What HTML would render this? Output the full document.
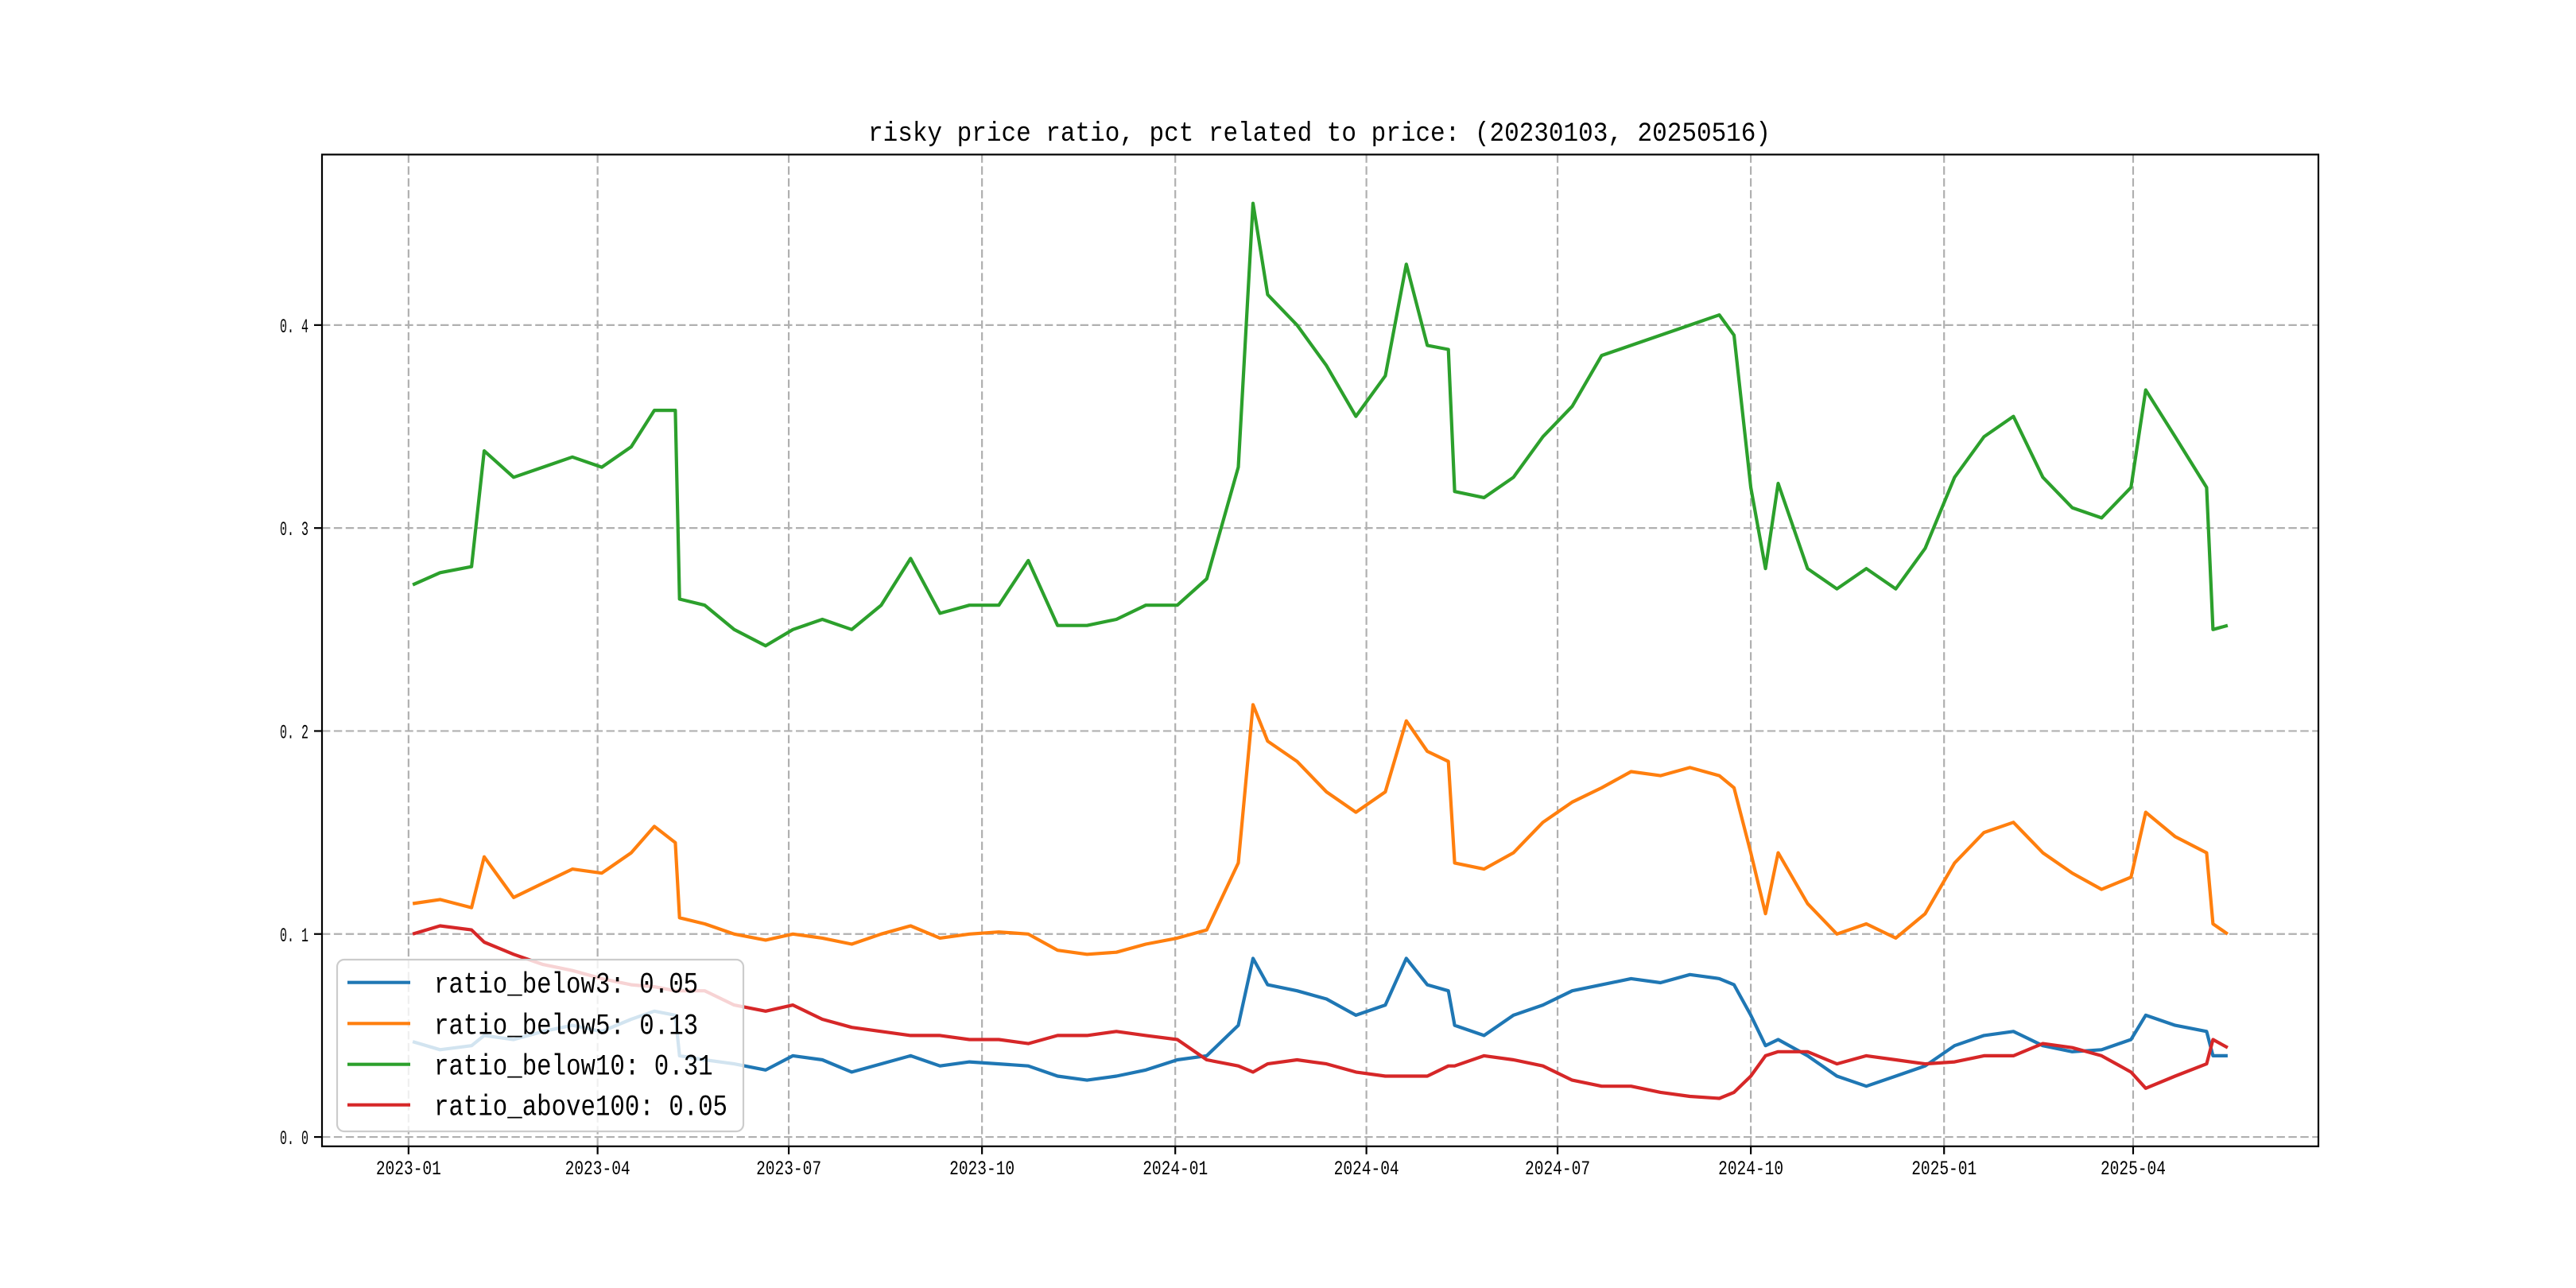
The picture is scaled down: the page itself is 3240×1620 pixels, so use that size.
<!DOCTYPE html>
<html><head><meta charset="utf-8">
<style>
html,body{margin:0;padding:0;background:#fff;}
svg{display:block;}
text{font-family:"Liberation Mono","WenQuanYi Zen Hei",monospace;fill:#000;}
</style></head>
<body>
<svg id="chart" width="3240" height="1620" viewBox="0 0 3240 1620" xmlns="http://www.w3.org/2000/svg">
<rect width="3240" height="1620" fill="#fff"/>
<g id="grid"></g>
<g id="series"></g>
<rect x="405" y="194.4" width="2511" height="1247.4" fill="none" stroke="#000" stroke-width="2.2"/>
<g id="ticks"></g>
<text x="1092" y="177" font-size="34" textLength="1135" lengthAdjust="spacingAndGlyphs">risky price ratio, pct related to price: (20230103, 20250516)</text>
<g id="legend"></g>
</svg>
<script>
const dates = ["2023-01-03","2023-01-16","2023-01-31","2023-02-06","2023-02-20","2023-03-06","2023-03-20","2023-04-03","2023-04-17","2023-04-28","2023-05-08","2023-05-10","2023-05-22","2023-06-05","2023-06-20","2023-07-03","2023-07-17","2023-07-31","2023-08-14","2023-08-28","2023-09-11","2023-09-25","2023-10-09","2023-10-23","2023-11-06","2023-11-20","2023-12-04","2023-12-18","2024-01-02","2024-01-16","2024-01-31","2024-02-07","2024-02-14","2024-02-28","2024-03-13","2024-03-27","2024-04-10","2024-04-20","2024-04-30","2024-05-10","2024-05-13","2024-05-27","2024-06-10","2024-06-24","2024-07-08","2024-07-22","2024-08-05","2024-08-19","2024-09-02","2024-09-16","2024-09-23","2024-10-01","2024-10-08","2024-10-14","2024-10-28","2024-11-11","2024-11-25","2024-12-09","2024-12-23","2025-01-06","2025-01-20","2025-02-03","2025-02-17","2025-03-03","2025-03-17","2025-03-31","2025-04-07","2025-04-21","2025-05-06","2025-05-09","2025-05-16"];
const below3 = [.047,.043,.045,.050,.048,.052,.055,.052,.058,.062,.060,.040,.038,.036,.033,.040,.038,.032,.036,.040,.035,.037,.036,.035,.030,.028,.030,.033,.038,.040,.055,.088,.075,.072,.068,.060,.065,.088,.075,.072,.055,.050,.060,.065,.072,.075,.078,.076,.080,.078,.075,.060,.045,.048,.040,.030,.025,.030,.035,.045,.050,.052,.045,.042,.043,.048,.060,.055,.052,.040,.040];
const below5 = [.115,.117,.113,.138,.118,.125,.132,.130,.140,.153,.145,.108,.105,.100,.097,.100,.098,.095,.100,.104,.098,.100,.101,.100,.092,.090,.091,.095,.098,.102,.135,.213,.195,.185,.170,.160,.170,.205,.190,.185,.135,.132,.140,.155,.165,.172,.180,.178,.182,.178,.172,.140,.110,.140,.115,.100,.105,.098,.110,.135,.150,.155,.140,.130,.122,.128,.160,.148,.140,.105,.100];
const below10 = [.272,.278,.281,.338,.325,.330,.335,.330,.340,.358,.358,.265,.262,.250,.242,.250,.255,.250,.262,.285,.258,.262,.262,.284,.252,.252,.255,.262,.262,.275,.330,.460,.415,.400,.380,.355,.375,.430,.390,.388,.318,.315,.325,.345,.360,.385,.390,.395,.400,.405,.395,.320,.280,.322,.280,.270,.280,.270,.290,.325,.345,.355,.325,.310,.305,.320,.368,.345,.320,.250,.252];
const above100 = [.100,.104,.102,.096,.090,.085,.082,.078,.075,.074,.072,.072,.072,.065,.062,.065,.058,.054,.052,.050,.050,.048,.048,.046,.050,.050,.052,.050,.048,.038,.035,.032,.036,.038,.036,.032,.030,.030,.030,.035,.035,.040,.038,.035,.028,.025,.025,.022,.020,.019,.022,.030,.040,.042,.042,.036,.040,.038,.036,.037,.040,.040,.046,.044,.040,.032,.024,.030,.036,.048,.044];
const seriesNames = ["ratio_below3: 0.05","ratio_below5: 0.13","ratio_below10: 0.31","ratio_above100: 0.05"];
const yTicks = [0.0,0.1,0.2,0.3,0.4];
const yTickLabels = ["0. 0","0. 1","0. 2","0. 3","0. 4"];
const xTicks = ["2023-01-01","2023-04-01","2023-07-01","2023-10-01","2024-01-01","2024-04-01","2024-07-01","2024-10-01","2025-01-01","2025-04-01"];
const xTickLabels = ["2023-01","2023-04","2023-07","2023-10","2024-01","2024-04","2024-07","2024-10","2025-01","2025-04"];

const NS="http://www.w3.org/2000/svg";
const L=405,R=2916,T=194.4,B=1441.8;
function day(s){const p=s.split('-');return Date.UTC(+p[0],+p[1]-1,+p[2])/86400000;}
const d0=day(dates[0]),d1=day(dates[dates.length-1]);
const xm=(d1-d0)*0.05;
function xs(s){return L+(day(s)-(d0-xm))/((d1-d0)+2*xm)*(R-L);}
const ymin=-0.0046,ymax=0.484;
function ys(v){return B-(v-ymin)/(ymax-ymin)*(B-T);}
function mk(tag,attrs,parent){const e=document.createElementNS(NS,tag);for(const k in attrs)e.setAttribute(k,attrs[k]);parent.appendChild(e);return e;}

const grid=document.getElementById('grid'),ticks=document.getElementById('ticks');
xTicks.forEach((t,i)=>{
  const x=xs(t);
  const g=mk('line',{x1:x,x2:x,y1:T,y2:B,stroke:'#b0b0b0','stroke-width':2.2,'stroke-dasharray':'10.4 4.5'},grid);
  
  
  const tk=mk('line',{x1:x,x2:x,y1:B,y2:B+10,stroke:'#000','stroke-width':2.2},ticks);
  
  
  const tx=mk('text',{x:x,y:1477,'font-size':25,'text-anchor':'middle',textLength:82,lengthAdjust:'spacingAndGlyphs'},ticks);
  tx.textContent=xTickLabels[i];
  
  
});
yTicks.forEach((v,i)=>{
  const y=ys(v);
  const g=mk('line',{x1:L,x2:R,y1:y,y2:y,stroke:'#b0b0b0','stroke-width':2.2,'stroke-dasharray':'10.4 4.5'},grid);
  
  
  const tk=mk('line',{x1:L-10,x2:L,y1:y,y2:y,stroke:'#000','stroke-width':2.2},ticks);
  
  
  const tx=mk('text',{x:388,y:y+9,'font-size':25,'text-anchor':'end',textLength:36,lengthAdjust:'spacingAndGlyphs'},ticks);
  tx.textContent=yTickLabels[i];
  
  
});

const colors=['#1f77b4','#ff7f0e','#2ca02c','#d62728'];
const allSeries=[below3,below5,below10,above100];
const names=['line-ratio-below3','line-ratio-below5','line-ratio-below10','line-ratio-above100'];
const sg=document.getElementById('series');
allSeries.forEach((vals,k)=>{
  const pts=vals.map((v,i)=>xs(dates[i]).toFixed(1)+','+ys(v).toFixed(1)).join(' ');
  const pl=mk('polyline',{points:pts,fill:'none',stroke:colors[k],'stroke-width':4.2,'stroke-linejoin':'round'},sg);
  
  
});

const lg=document.getElementById('legend');
const box=mk('rect',{x:424,y:1207,width:511,height:216,rx:9,fill:'#fff','fill-opacity':0.8,stroke:'#cccccc','stroke-width':2.2},lg);


const ly=[1235.7,1287.3,1338.7,1389.7];
seriesNames.forEach((n,k)=>{
  const ln=mk('line',{x1:437,x2:516,y1:ly[k],y2:ly[k],stroke:colors[k],'stroke-width':4.2},lg);
  
  
  const tx=mk('text',{x:546,y:ly[k]+13,'font-size':37,textLength:(n.length*18.45).toFixed(1),lengthAdjust:'spacingAndGlyphs'},lg);
  tx.textContent=n;
  
  
});
</script>
</body></html>
